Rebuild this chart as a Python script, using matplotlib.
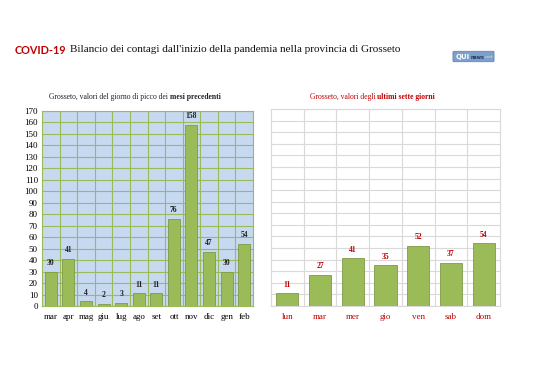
import matplotlib.pyplot as plt
from matplotlib.patches import FancyBboxPatch

mesi = ['mar', 'apr', 'mag', 'giu', 'lug', 'ago', 'set', 'ott', 'nov', 'dic', 'gen', 'feb']
picchi = [30, 41, 4, 2, 3, 11, 11, 76, 158, 47, 30, 54]

giorni = ['lun', 'mar', 'mer', 'gio', 'ven', 'sab', 'dom']
ultimi = [11, 27, 41, 35, 52, 37, 54]

serif = 'Liberation Serif'
verde = '#9bbb59'
bordo = '#7f9a48'
rosso = '#c00000'

fig = plt.figure(figsize=(5.38, 3.8), dpi=100)
fig.patch.set_facecolor('white')

# grafico sinistro
ax1 = fig.add_axes([42 / 538, 74 / 380, 211 / 538, 195 / 380])
ax1.set_facecolor('#c6d9f1')
x1 = range(len(mesi))
ax1.bar(x1, picchi, width=0.68, color=verde, edgecolor=bordo, lw=0.6, zorder=3)
ax1.set_xlim(-0.5, len(mesi) - 0.5)
ax1.set_ylim(0, 170)
ax1.set_yticks(range(0, 171, 10))
ax1.set_xticks(list(x1))
ax1.set_xticklabels(mesi)
ax1.set_xticks([i + 0.5 for i in range(len(mesi) - 1)], minor=True)
ax1.grid(True, which='major', axis='y', color='#9bbb59', lw=0.8, zorder=1)
ax1.grid(True, which='minor', axis='x', color='#9bbb59', lw=0.8, zorder=1)
ax1.tick_params(which='both', length=0)
ax1.tick_params(axis='y', labelsize=6.5, pad=3)
ax1.tick_params(axis='x', labelsize=6.5, pad=5)
for lab in ax1.get_xticklabels() + ax1.get_yticklabels():
    lab.set_family(serif)
for s in ax1.spines.values():
    s.set_color('#9bbb59')
    s.set_linewidth(0.8)
for i, v in enumerate(picchi):
    ax1.text(i, v + 4, str(v), ha='center', va='bottom', fontsize=5.5,
             family=serif, weight='bold', color='#222222')
fig.text(170 / 538, 1 - 97 / 380, 'Grosseto, valori del giorno di picco dei ',
         family=serif, fontsize=5.5, ha='right', va='center', color='#222222')
fig.text(170 / 538, 1 - 97 / 380, 'mesi precedenti', family=serif, weight='bold',
         fontsize=5.5, ha='left', va='center', color='#222222')

# titolo
t_covid = fig.text(15 / 538, 1 - 50 / 380, 'COVID-19', family='Lato', weight='bold',
                   color=rosso, fontsize=7.8, va='center', ha='left')
ax1.annotate("Bilancio dei contagi dall'inizio della pandemia nella provincia di Grosseto",
             xy=(1, 0.5), xycoords=t_covid, xytext=(2.5, 0), textcoords='offset points',
             family=serif, fontsize=8.0, va='center', ha='left', color='#111111',
             annotation_clip=False)

# logo
logo = FancyBboxPatch((454 / 538, 1 - 61 / 380), 39 / 538, 9 / 380,
                      boxstyle='round,pad=0.002', transform=fig.transFigure,
                      facecolor='#7d9fc9', edgecolor='#5a7fae', lw=0.5, zorder=-1)
fig.patches.append(logo)
t_qui = fig.text(455.5 / 538, 1 - 56.5 / 380, 'QUI', family='DejaVu Sans', weight='bold',
                 color='white', fontsize=5, va='center', ha='left')
t_news = ax1.annotate('news', xy=(1, 0.4), xycoords=t_qui, xytext=(0.5, 0),
                      textcoords='offset points', family='DejaVu Sans', weight='bold',
                      color='#1f3864', fontsize=3.4, va='center', ha='left',
                      annotation_clip=False)
ax1.annotate('.net', xy=(1, 0.5), xycoords=t_news, xytext=(0.5, 0),
             textcoords='offset points', family='DejaVu Sans', color='#dce6f2',
             fontsize=3.2, va='center', ha='left', annotation_clip=False)

# grafico destro
ax2 = fig.add_axes([271 / 538, 74 / 380, 229 / 538, 197 / 380])
ax2.set_facecolor('white')
x2 = range(len(giorni))
ax2.bar(x2, ultimi, width=0.68, color=verde, edgecolor=bordo, lw=0.6, zorder=3)
ax2.set_xlim(-0.5, len(giorni) - 0.5)
ax2.set_ylim(0, 170)
ax2.set_yticks(range(0, 171, 10))
ax2.set_yticklabels([])
ax2.set_xticks(list(x2))
ax2.set_xticklabels(giorni, color=rosso)
ax2.set_xticks([i + 0.5 for i in range(len(giorni) - 1)], minor=True)
ax2.grid(True, which='major', axis='y', color='#d9d9d9', lw=0.8, zorder=1)
ax2.grid(True, which='minor', axis='x', color='#d9d9d9', lw=0.8, zorder=1)
ax2.tick_params(which='both', length=0)
ax2.tick_params(axis='x', labelsize=6.5, pad=5)
for lab in ax2.get_xticklabels():
    lab.set_family(serif)
for s in ax2.spines.values():
    s.set_color('#d9d9d9')
    s.set_linewidth(0.8)
for i, v in enumerate(ultimi):
    ax2.text(i, v + 4, str(v), ha='center', va='bottom', fontsize=5.5,
             family=serif, weight='bold', color=rosso)
fig.text(377 / 538, 1 - 97 / 380, 'Grosseto, valori degli ',
         family=serif, fontsize=5.5, ha='right', va='center', color=rosso)
fig.text(377 / 538, 1 - 97 / 380, 'ultimi sette giorni', family=serif, weight='bold',
         fontsize=5.5, ha='left', va='center', color=rosso)

fig.savefig('out.png', dpi=100)
